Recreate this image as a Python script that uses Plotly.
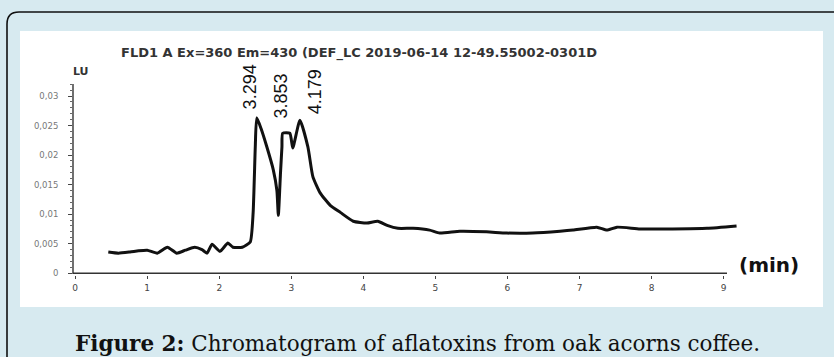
import plotly.graph_objects as go

# ---- data ----
time_min = [0.46, 0.60, 0.76, 0.88, 1.00, 1.14, 1.28, 1.41, 1.53, 1.66, 1.76, 1.83, 1.90, 2.01,
            2.12, 2.19, 2.32, 2.43, 2.47, 2.50, 2.52, 2.58, 2.66, 2.75, 2.80, 2.82, 2.85, 2.87,
            2.88, 2.98, 3.02, 3.12, 3.23, 3.30, 3.40, 3.54, 3.68, 3.86, 4.05, 4.20, 4.33, 4.48,
            4.69, 4.92, 5.06, 5.34, 5.71, 5.99, 6.35, 6.73, 6.91, 7.24, 7.38, 7.52, 7.84, 8.29,
            8.77, 9.18]
signal_lu = [0.0036, 0.0034, 0.0036, 0.0038, 0.0039, 0.0034, 0.0044, 0.0034, 0.0039, 0.0044, 0.0040, 0.0034, 0.0049, 0.0037,
             0.0051, 0.0044, 0.0044, 0.0053, 0.0102, 0.0214, 0.0263, 0.0245, 0.0214, 0.0175, 0.0140, 0.0098, 0.0170, 0.0214,
             0.0237, 0.0237, 0.0212, 0.0259, 0.0214, 0.0163, 0.0136, 0.0115, 0.0103, 0.0088, 0.0085, 0.0088, 0.0081, 0.0076,
             0.0076, 0.0073, 0.0068, 0.0071, 0.0070, 0.0068, 0.0068, 0.0071, 0.0073, 0.0078, 0.0073, 0.0078, 0.0075, 0.0075,
             0.0076, 0.0080]

peak_labels = ["3.294", "3.853", "4.179"]

x_tick_vals = [0, 1, 2, 3, 4, 5, 6, 7, 8, 9]
x_tick_text = ["0", "1", "2", "3", "4", "5", "6", "7", "8", "9"]
y_tick_vals = [0, 0.005, 0.01, 0.015, 0.02, 0.025, 0.03]
y_tick_text = ["0", "0,005", "0,01", "0,015", "0,02", "0,025", "0,03"]

title_text = "FLD1 A Ex=360 Em=430 (DEF_LC 2019-06-14 12-49.55002-0301D"
caption_bold = "Figure 2:"
caption_rest = " Chromatogram of aflatoxins from oak acorns coffee."

# ---- layout geometry (pixels) ----
W, H = 834, 357
L, R, T, B = 73, 738, 83, 275
pw, ph = R - L, B - T


def fx(px):
    return (px - L) / pw


def fy(py):
    return 1 - (py - T) / ph


fig = go.Figure()
fig.add_trace(go.Scatter(x=time_min, y=signal_lu, mode="lines",
                         line=dict(color="#111111", width=3, shape="spline", smoothing=0.5),
                         hoverinfo="skip", showlegend=False))

# label positions (layout only)
label_x = [2.42, 2.86, 3.33]
label_y = [0.0274, 0.0258, 0.0265]
annotations = []
for txt, lx, ly in zip(peak_labels, label_x, label_y):
    annotations.append(dict(x=lx, y=ly, xref="x", yref="y", text=txt, textangle=-90,
                            showarrow=False, xanchor="center", yanchor="bottom",
                            font=dict(family="Liberation Sans Narrow, Liberation Sans, Arial", size=18, color="#111")))

annotations += [
    dict(x=fx(359), y=fy(53), xref="paper", yref="paper", text="<b>" + title_text + "</b>", showarrow=False,
         xanchor="center", yanchor="middle",
         font=dict(family="DejaVu Sans", size=13, color="#333")),
    dict(x=fx(71), y=fy(71), xref="paper", yref="paper", text="<b>LU</b>", showarrow=False,
         xanchor="left", yanchor="middle", font=dict(family="DejaVu Sans", size=11, color="#333")),
    dict(x=fx(737), y=fy(265), xref="paper", yref="paper", text="<b>(min)</b>", showarrow=False,
         xanchor="left", yanchor="middle", font=dict(family="DejaVu Sans", size=20, color="#111")),
    dict(x=fx(417), y=fy(343), xref="paper", yref="paper",
         text="<b>" + caption_bold + "</b>" + caption_rest, showarrow=False,
         xanchor="center", yanchor="middle", font=dict(family="DejaVu Serif", size=21.5, color="#111")),
]

shapes = [
    # white panel
    dict(type="rect", xref="paper", yref="paper", x0=fx(20), x1=fx(823), y0=fy(307), y1=fy(31),
         fillcolor="white", line=dict(width=0), layer="below"),
    # outer rounded frame
    dict(type="path", xref="paper", yref="paper",
         path=f"M {fx(7)},{fy(400)} L {fx(7)},{fy(24)} Q {fx(7)},{fy(12)} {fx(19)},{fy(12)} L {fx(900)},{fy(12)}",
         line=dict(color="#111", width=1.6), layer="below"),
    # x axis line
    dict(type="line", xref="paper", yref="y", x0=fx(73), x1=fx(727), y0=0, y1=0,
         line=dict(color="#333", width=1.4)),
    # y axis line
    dict(type="line", xref="paper", yref="paper", x0=0, x1=0, y0=fy(274), y1=fy(84),
         line=dict(color="#333", width=1.4)),
]

fig.update_layout(
    width=W, height=H,
    margin=dict(l=L, r=W - R, t=T, b=H - B, pad=0),
    paper_bgcolor="#d7eaf0", plot_bgcolor="rgba(0,0,0,0)",
    showlegend=False,
    annotations=annotations, shapes=shapes,
    xaxis=dict(range=[-0.03, 9.2], showgrid=False, zeroline=False, showline=False,
               tickvals=x_tick_vals, ticktext=x_tick_text, ticks="outside", ticklen=3,
               tickcolor="#444", ticklabelstandoff=1,
               tickfont=dict(family="DejaVu Sans", size=9, color="#444")),
    yaxis=dict(range=[-0.0003, 0.0322], showgrid=False, zeroline=False, showline=False,
               tickvals=y_tick_vals, ticktext=y_tick_text, ticks="outside", ticklen=4,
               tickcolor="#444", ticklabelstandoff=8,
               minor=dict(ticks="outside", ticklen=2, dtick=0.001, tickcolor="#666"),
               tickfont=dict(family="DejaVu Sans", size=8.5, color="#777")),
)

fig.write_html("out.html", config={"displayModeBar": False},
               post_script="document.body.style.margin='0';document.body.style.overflow='hidden';")
